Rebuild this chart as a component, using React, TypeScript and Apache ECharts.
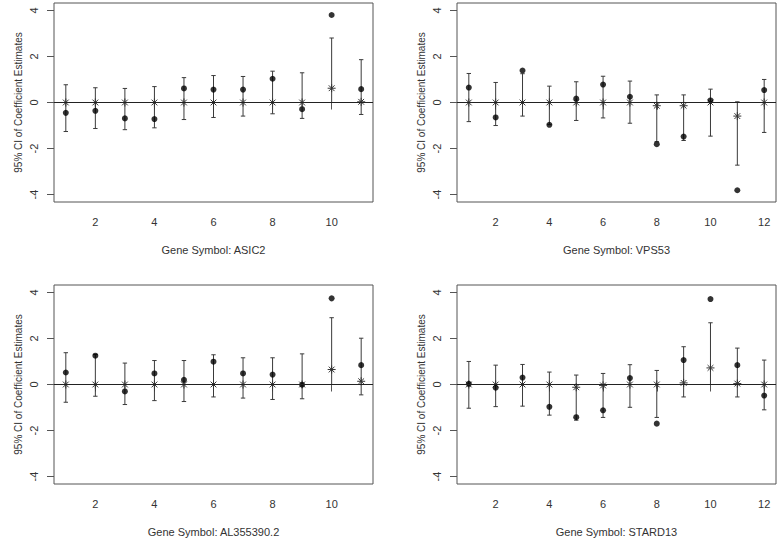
import React, { useEffect, useRef } from "react";
import * as echarts from "echarts";

// ---- data ----
const panelTitles = ["Gene Symbol: ASIC2", "Gene Symbol: VPS53", "Gene Symbol: AL355390.2", "Gene Symbol: STARD13"];
const yTicks = [-4, -2, 0, 2, 4];
const xTicks11 = [2, 4, 6, 8, 10];
const xTicks12 = [2, 4, 6, 8, 10, 12];

const asic2Lo = [-1.26, -1.13, -1.18, -1.1, -0.74, -0.65, -0.59, -0.49, -0.69, 0, -0.52];
const asic2Hi = [0.77, 0.64, 0.61, 0.69, 1.08, 1.17, 1.13, 1.36, 1.29, 2.8, 1.86];
const asic2Dot = [-0.45, -0.36, -0.69, -0.72, 0.61, 0.56, 0.56, 1.03, -0.29, 3.8, 0.58];
const asic2Star = [0, 0, 0, 0, 0, 0, 0, 0, 0, 0.62, 0.03];

const vps53Lo = [-0.83, -1.0, -0.59, -0.96, -0.78, -0.67, -0.9, -1.7, -1.65, -1.46, -2.72, -1.3];
const vps53Hi = [1.26, 0.87, 1.25, 0.71, 0.9, 1.14, 0.93, 0.33, 0.33, 0.58, 0.03, 1.0];
const vps53Dot = [0.65, -0.65, 1.39, -0.97, 0.17, 0.78, 0.25, -1.81, -1.48, 0.09, -3.81, 0.54];
const vps53Star = [0, 0, 0, 0, 0, 0, 0, -0.14, -0.14, 0, -0.59, 0];

const al355Lo = [-0.77, -0.51, -0.87, -0.7, -0.74, -0.54, -0.59, -0.65, -0.62, 0, -0.45];
const al355Hi = [1.38, 1.3, 0.93, 1.04, 1.04, 1.29, 1.16, 1.16, 1.33, 2.9, 2.01];
const al355Dot = [0.52, 1.25, -0.3, 0.48, 0.2, 0.99, 0.48, 0.43, -0.01, 3.74, 0.84];
const al355Star = [0, 0, 0, 0, 0, 0, 0, 0, 0, 0.65, 0.14];

const stard13Lo = [-1.03, -0.96, -0.94, -1.33, -1.55, -1.43, -0.99, -1.43, -0.54, 0, -0.54, -1.1];
const stard13Hi = [1.0, 0.84, 0.87, 0.54, 0.41, 0.48, 0.86, 0.61, 1.64, 2.68, 1.58, 1.06];
const stard13Dot = [0.03, -0.14, 0.3, -0.97, -1.42, -1.12, 0.28, -1.7, 1.06, 3.71, 0.84, -0.48];
const stard13Star = [0, 0, 0, 0, -0.12, -0.04, 0, 0, 0.07, 0.72, 0.04, 0];

const panels = [
  { lo: asic2Lo, hi: asic2Hi, dot: asic2Dot, star: asic2Star, ticks: xTicks11 },
  { lo: vps53Lo, hi: vps53Hi, dot: vps53Dot, star: vps53Star, ticks: xTicks12 },
  { lo: al355Lo, hi: al355Hi, dot: al355Dot, star: al355Star, ticks: xTicks11 },
  { lo: stard13Lo, hi: stard13Hi, dot: stard13Dot, star: stard13Star, ticks: xTicks12 },
];

const FONT = "'Liberation Sans', Arial, Helvetica, sans-serif";
const TEXT = "#333";
const AXIS = "#555";

export default function App() {
  const ref = useRef<HTMLDivElement>(null);
  useEffect(() => {
    if (!ref.current) return;
    const chart = echarts.init(ref.current, null, { renderer: "svg" });
    const gridPos = [
      { left: 54, top: 3, width: 319, height: 199 },
      { left: 457, top: 3, width: 319, height: 199 },
      { left: 54, top: 285, width: 319, height: 199 },
      { left: 457, top: 285, width: 319, height: 199 },
    ];
    const grids = gridPos.map((g) => ({
      ...g,
      show: true,
      borderColor: AXIS,
      borderWidth: 1,
      backgroundColor: "transparent",
    }));
    const xAxes = panels.map((p, i) => {
      const n = p.lo.length;
      const pad = (n - 1) * 0.04;
      return {
        type: "value",
        gridIndex: i,
        min: 1 - pad,
        max: n + pad,
        splitLine: { show: false },
        axisLine: { show: false },
        axisTick: { show: true, customValues: p.ticks, length: 7, inside: false, lineStyle: { color: AXIS } },
        axisLabel: { customValues: p.ticks, margin: 14, color: TEXT, fontSize: 11, fontFamily: FONT },
        name: panelTitles[i],
        nameLocation: "middle",
        nameGap: 42,
        nameTextStyle: { color: TEXT, fontSize: 11, fontFamily: FONT },
      };
    });
    const yAxes = panels.map((_, i) => ({
      type: "value",
      gridIndex: i,
      min: -4.32,
      max: 4.32,
      splitLine: { show: false },
      axisLine: { show: false },
      axisTick: { show: true, customValues: yTicks, length: 7, inside: false, lineStyle: { color: AXIS } },
      axisLabel: { customValues: yTicks, rotate: 90, margin: 15, color: TEXT, fontSize: 11, fontFamily: FONT },
      name: "95% CI of Coefficient Estimates",
      nameLocation: "middle",
      nameRotate: 90,
      nameGap: 31,
      nameTextStyle: { color: TEXT, fontSize: 10, fontFamily: FONT },
    }));

    const series: any[] = [];
    panels.forEach((p, i) => {
      const n = p.lo.length;
      const pad = (n - 1) * 0.04;
      series.push({
        type: "line",
        xAxisIndex: i,
        yAxisIndex: i,
        data: [
          [1 - pad, 0],
          [n + pad, 0],
        ],
        symbol: "none",
        lineStyle: { color: "#222", width: 1 },
        silent: true,
      });
      series.push({
        type: "custom",
        xAxisIndex: i,
        yAxisIndex: i,
        data: p.lo.map((lo, k) => [k + 1, lo, p.hi[k]]),
        encode: { x: 0, y: [1, 2] },
        renderItem: (params: any, api: any) => {
          const x = api.value(0);
          const a = api.coord([x, api.value(1)]);
          const b = api.coord([x, api.value(2)]);
          const cw = 2.2;
          const st = { stroke: "#3a3a3a", lineWidth: 1 };
          return {
            type: "group",
            children: [
              { type: "line", shape: { x1: a[0], y1: a[1], x2: b[0], y2: b[1] }, style: st },
              { type: "line", shape: { x1: a[0] - cw, y1: a[1], x2: a[0] + cw, y2: a[1] }, style: st },
              { type: "line", shape: { x1: b[0] - cw, y1: b[1], x2: b[0] + cw, y2: b[1] }, style: st },
            ],
          };
        },
        silent: true,
      });
      series.push({
        type: "custom",
        xAxisIndex: i,
        yAxisIndex: i,
        data: p.star.map((s, k) => [k + 1, s]),
        renderItem: (params: any, api: any) => {
          const c = api.coord([api.value(0), api.value(1)]);
          const r = 4;
          const d = r * 0.72;
          const st = { stroke: "#333", lineWidth: 1 };
          return {
            type: "group",
            children: [
              { type: "line", shape: { x1: c[0] - r, y1: c[1], x2: c[0] + r, y2: c[1] }, style: st },
              { type: "line", shape: { x1: c[0], y1: c[1] - r, x2: c[0], y2: c[1] + r }, style: st },
              { type: "line", shape: { x1: c[0] - d, y1: c[1] - d, x2: c[0] + d, y2: c[1] + d }, style: st },
              { type: "line", shape: { x1: c[0] - d, y1: c[1] + d, x2: c[0] + d, y2: c[1] - d }, style: st },
            ],
          };
        },
        silent: true,
      });
      series.push({
        type: "scatter",
        xAxisIndex: i,
        yAxisIndex: i,
        data: p.dot.map((v, k) => [k + 1, v]),
        symbol: "circle",
        symbolSize: 6,
        itemStyle: { color: "#000" },
        silent: true,
      });
    });

    chart.setOption({
      animation: false,
      backgroundColor: "#fff",
      textStyle: { fontFamily: FONT },
      grid: grids,
      xAxis: xAxes,
      yAxis: yAxes,
      series,
    });
    return () => chart.dispose();
  }, []);
  return <div ref={ref} style={{ position: "absolute", left: 0, top: 0, width: 780, height: 541 }} />;
}
